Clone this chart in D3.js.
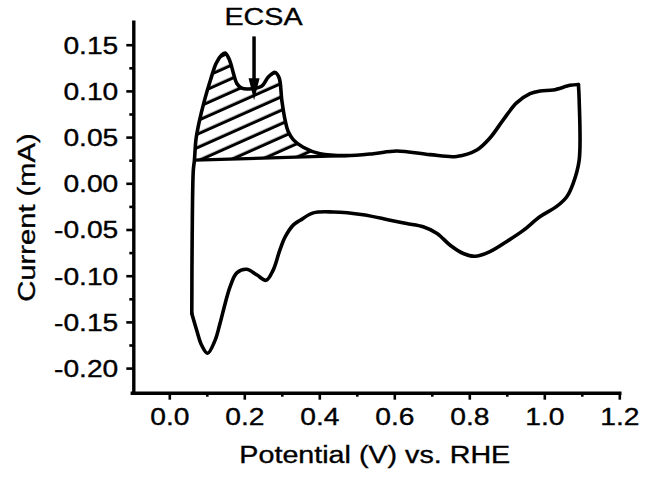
<!DOCTYPE html>
<html>
<head>
<meta charset="utf-8">
<style>
  body { margin: 0; background: #fff; }
  text { font-family: "Liberation Sans", Arial, sans-serif; fill: #000; stroke: #000; stroke-width: 0.35px; }
</style>
</head>
<body></body>

<script src='https://d3js.org/d3.v7.min.js'></script>
<script>

    const width = 659;
    const height = 477;

    // anodic sweep, from the lower turning point up to the top-right corner
    const anodicE = [0.060, 0.061, 0.064, 0.067, 0.071, 0.079, 0.094, 0.110, 0.125, 0.140,
        0.149, 0.161, 0.171, 0.180, 0.193, 0.211, 0.246, 0.264, 0.282, 0.293,
        0.300, 0.309, 0.317, 0.331, 0.357, 0.402, 0.471, 0.544, 0.606, 0.695,
        0.766, 0.820, 0.855, 0.891, 0.926, 0.962, 0.989, 1.024, 1.069, 1.091];
    const anodicI = [-0.141, -0.058, 0.014, 0.025, 0.047, 0.065, 0.090, 0.112, 0.130, 0.139,
        0.141, 0.133, 0.119, 0.108, 0.103, 0.102, 0.105, 0.115, 0.120, 0.114,
        0.090, 0.068, 0.056, 0.047, 0.039, 0.032, 0.030, 0.032, 0.035, 0.031,
        0.029, 0.036, 0.049, 0.069, 0.087, 0.097, 0.100, 0.101, 0.106, 0.107];

    // cathodic sweep, from the top-right corner back to the lower turning point
    const cathodicE = [1.091, 1.093, 1.093, 1.077, 1.060, 1.033, 0.989, 0.944, 0.900, 0.855,
        0.815, 0.784, 0.749, 0.713, 0.677, 0.633, 0.589, 0.517, 0.437, 0.384,
        0.349, 0.331, 0.309, 0.295, 0.277, 0.258, 0.233, 0.206, 0.180, 0.162,
        0.149, 0.135, 0.122, 0.102, 0.086, 0.073, 0.060];
    const cathodicI = [0.107, 0.090, 0.025, 0.000, -0.0145, -0.025, -0.036, -0.051, -0.063, -0.074,
        -0.079, -0.076, -0.067, -0.054, -0.047, -0.0435, -0.040, -0.034, -0.031, -0.032,
        -0.040, -0.045, -0.058, -0.072, -0.094, -0.105, -0.099, -0.093, -0.097, -0.112,
        -0.130, -0.152, -0.170, -0.184, -0.175, -0.159, -0.141];

    // ECSA baseline (hatched region lies between it and the anodic curve)
    const ecsaE = [0.067, 0.471];
    const ecsaI = [0.025, 0.030];
    const arrowE = 0.226;
    const arrowI = [0.159, 0.090];

    const xTicks = [0.0, 0.2, 0.4, 0.6, 0.8, 1.0, 1.2];
    const xMinor = [0.1, 0.3, 0.5, 0.7, 0.9, 1.1];
    const yTicks = [-0.20, -0.15, -0.10, -0.05, 0.00, 0.05, 0.10, 0.15];
    const yMinor = [-0.175, -0.125, -0.075, -0.025, 0.025, 0.075, 0.125];

    const x = d3.scaleLinear().domain([-0.1, 1.2]).range([131.8, 619.3]);
    const y = d3.scaleLinear().domain([-0.225, 0.175]).range([391.2, 21.6]);

    const svg = d3.select("body").append("svg")
        .attr("width", width)
        .attr("height", height);

    // hatch pattern
    const defs = svg.append("defs");
    const pat = defs.append("pattern")
        .attr("id", "hatch")
        .attr("patternUnits", "userSpaceOnUse")
        .attr("width", 40)
        .attr("height", 12.3)
        .attr("patternTransform", "rotate(-24)");
    pat.append("line")
        .attr("x1", 0).attr("x2", 40)
        .attr("y1", 6).attr("y2", 6)
        .attr("stroke", "#000")
        .attr("stroke-width", 3);

    function stretch(sel, k) {
        sel.each(function () {
            const w = this.getComputedTextLength();
            d3.select(this).attr("textLength", w * k).attr("lengthAdjust", "spacingAndGlyphs");
        });
    }

    const line = d3.line()
        .x(d => x(d[0]))
        .y(d => y(d[1]))
        .curve(d3.curveCatmullRom.alpha(0.5));

    const anodic = anodicE.map((e, i) => [e, anodicI[i]]);
    const cathodic = cathodicE.map((e, i) => [e, cathodicI[i]]);

    // hatched ECSA area
    const upper = anodic.filter(d => d[0] >= ecsaE[0] && d[0] <= ecsaE[1]);
    const base = ecsaE.map((e, i) => [e, ecsaI[i]]).reverse();
    svg.append("path")
        .attr("d", line(upper) + "L" + base.map(d => x(d[0]) + "," + y(d[1])).join("L") + "Z")
        .attr("fill", "url(#hatch)")
        .attr("stroke", "none");

    // baseline
    svg.append("line")
        .attr("x1", x(ecsaE[0])).attr("y1", y(ecsaI[0]))
        .attr("x2", x(ecsaE[1])).attr("y2", y(ecsaI[1]))
        .attr("stroke", "#000")
        .attr("stroke-width", 3.3);

    [anodic, cathodic].forEach(function (d) {
        svg.append("path")
            .attr("d", line(d))
            .attr("fill", "none")
            .attr("stroke", "#000")
            .attr("stroke-width", 3.6)
            .attr("stroke-linejoin", "round")
            .attr("stroke-linecap", "round");
    });

    // axes
    const gx = svg.append("g")
        .attr("transform", "translate(0,392.7)")
        .call(d3.axisBottom(x).tickValues(xTicks).tickSize(7).tickSizeOuter(0)
            .tickFormat(d => d.toFixed(1)));
    gx.append("g").call(d3.axisBottom(x).tickValues(xMinor).tickSize(4).tickSizeOuter(0).tickFormat(""))
        .select(".domain").remove();
    gx.selectAll("text")
        .attr("y", 32.3).attr("dy", 0)
        .style("font-size", "23.5px")
        .call(stretch, 1.2);

    const gy = svg.append("g")
        .attr("transform", "translate(133.3,0)")
        .call(d3.axisLeft(y).tickValues(yTicks).tickSize(7).tickSizeOuter(0)
            .tickFormat(d => d.toFixed(2)));
    gy.append("g").call(d3.axisLeft(y).tickValues(yMinor).tickSize(4).tickSizeOuter(0).tickFormat(""))
        .select(".domain").remove();
    gy.selectAll("text")
        .attr("x", -15).attr("dy", "0.36em")
        .style("font-size", "23.5px")
        .call(stretch, 1.2);

    svg.selectAll(".domain")
        .attr("stroke-width", 3.4)
        .attr("stroke-linecap", "square");
    svg.selectAll(".tick line")
        .attr("stroke-width", 2.6);

    // titles
    svg.append("text")
        .attr("x", 374.8).attr("y", 462.5)
        .attr("text-anchor", "middle")
        .style("font-size", "23.5px")
        .text("Potential (V) vs. RHE")
        .call(stretch, 1.22);

    svg.append("text")
        .attr("transform", "translate(35,217.5) rotate(-90)")
        .attr("text-anchor", "middle")
        .style("font-size", "23.5px")
        .text("Current (mA)")
        .call(stretch, 1.24);

    // ECSA annotation
    svg.append("text")
        .attr("x", 263.5).attr("y", 25.3)
        .attr("text-anchor", "middle")
        .style("font-size", "24.5px")
        .text("ECSA")
        .call(stretch, 1.17);

    const ax = x(arrowE), ay0 = y(arrowI[0]), ay1 = y(arrowI[1]);
    svg.append("line")
        .attr("x1", ax).attr("x2", ax)
        .attr("y1", ay0).attr("y2", ay1 - 12)
        .attr("stroke", "#000")
        .attr("stroke-width", 3.5);
    svg.append("path")
        .attr("d", `M${ax - 5.5},${ay1 - 22}L${ax + 5.5},${ay1 - 22}L${ax},${ay1}Z`)
        .attr("fill", "#000");
</script>
</html>
